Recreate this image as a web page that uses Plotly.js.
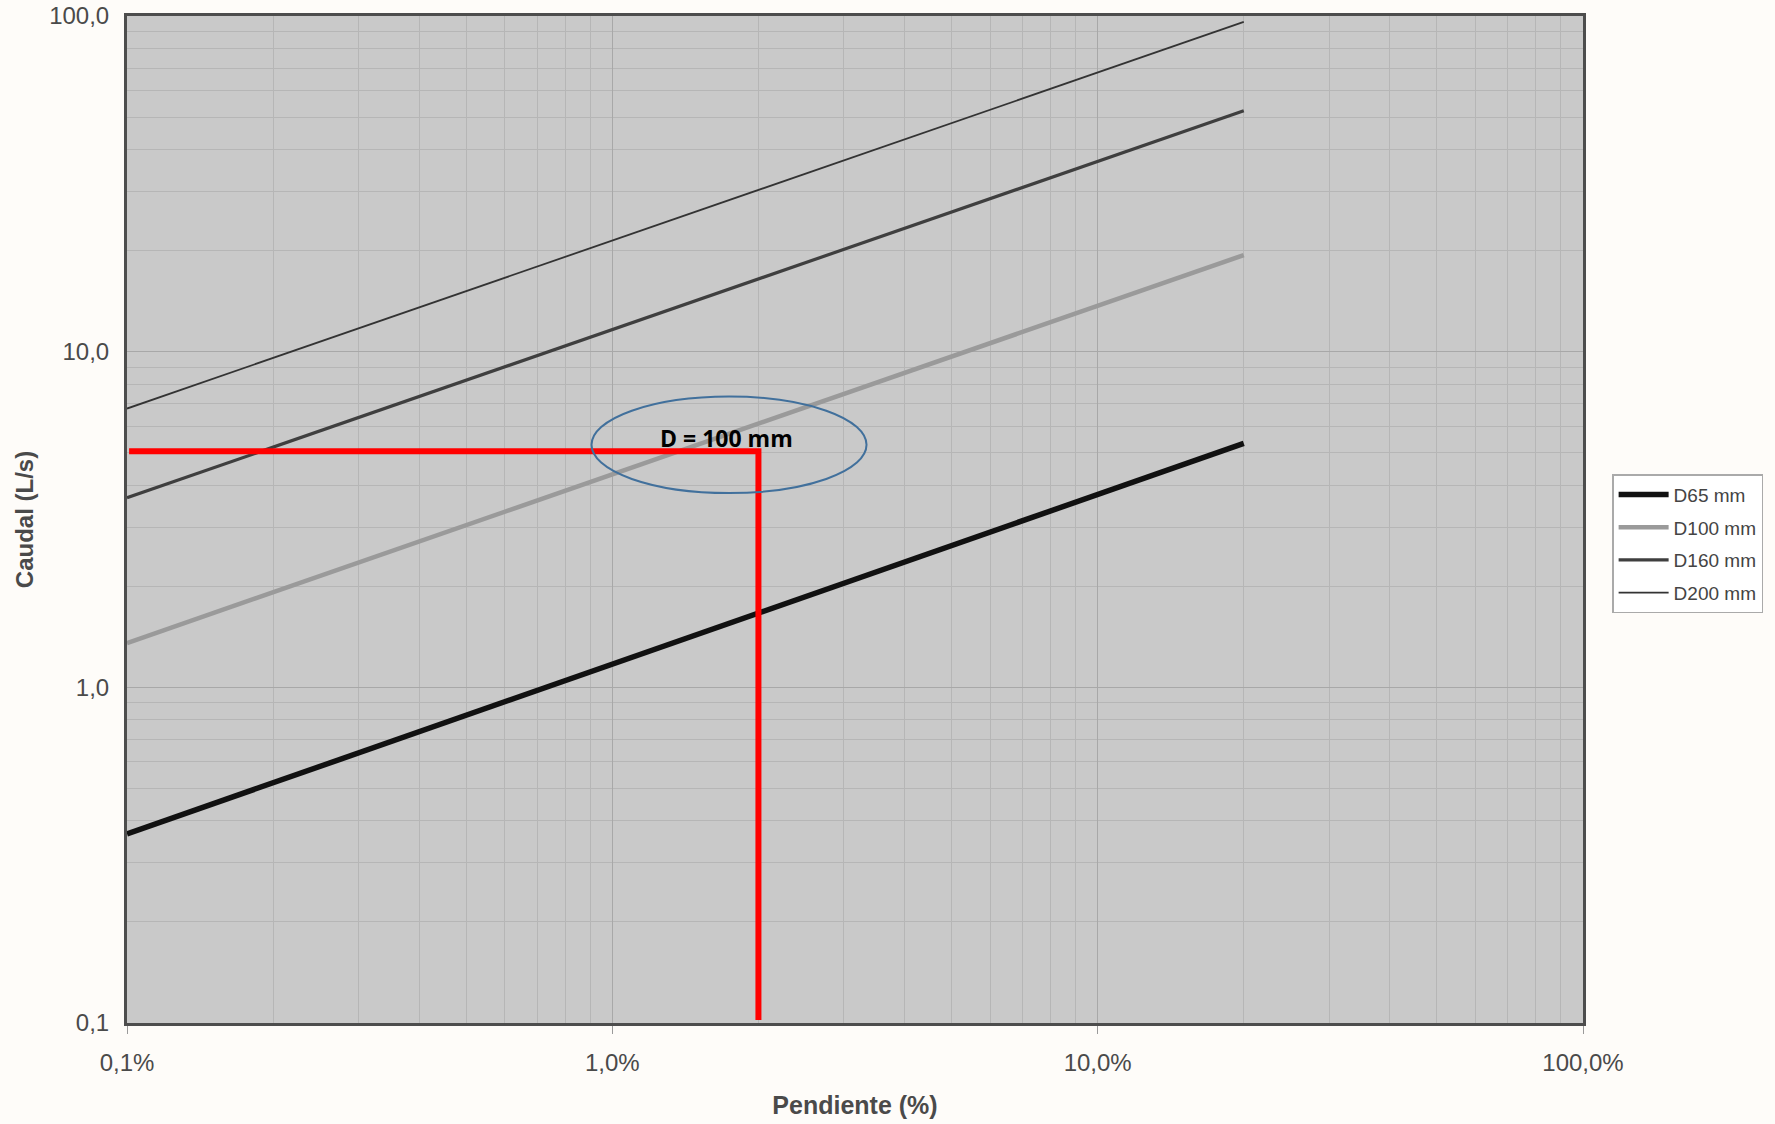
<!DOCTYPE html>
<html>
<head>
<meta charset="utf-8">
<script src="https://cdn.plot.ly/plotly-3.0.1.min.js"></script>
<style>
  html, body { margin: 0; padding: 0; background: #fefcf9; }
  #chart { width: 1775px; height: 1124px; }
</style>
</head>
<body>
<div id="chart"></div>
<script>
// Pendiente (%) at the two ends of each curve
const slopes = [0.1, 20];
// Caudal (L/s) read at those ends
const d65 = [0.366, 5.33];
const d100 = [1.355, 19.4];
const d160 = [3.67, 52.2];
const d200 = [6.77, 96];
const seriesNames = ['D65 mm', 'D100 mm', 'D160 mm', 'D200 mm'];

// Red reading guide (D = 100 mm at 2 % gives about 5 L/s)
const guideX = [0.101, 2, 2];
const guideY = [5.05, 5.05, 0.102];

// Ellipse corners (data values) around the reading point
const ellipseX = [0.906, 3.34];
const ellipseY = [3.79, 7.35];
const noteText = 'D = 100 mm';
const notePos = [1.72, 5.55];

const xTickVals = [0.1, 1, 10, 100];
const xTickText = ['0,1%', '1,0%', '10,0%', '100,0%'];
const yTickVals = [0.1, 1, 10, 100];
const yTickText = ['0,1', '1,0', '10,0', '100,0'];

const styles = [
  {color: '#111111', width: 5.5},
  {color: '#9a9a9a', width: 4.5},
  {color: '#3f3f3f', width: 3.2},
  {color: '#333333', width: 1.8}
];
const values = [d65, d100, d160, d200];

const traces = values.map((v, i) => ({
  x: slopes, y: v, type: 'scatter', mode: 'lines',
  name: seriesNames[i], legendgroup: 'g' + i,
  line: {color: styles[i].color, width: styles[i].width}
}));

traces.push({
  x: guideX, y: guideY, type: 'scatter', mode: 'lines',
  showlegend: false, hoverinfo: 'skip',
  line: {color: '#ff0000', width: 6}
});

const gridMinor = {showgrid: true, gridcolor: '#b6b6b6', gridwidth: 1, dtick: 'D1', ticks: ''};

const layout = {
  width: 1775, height: 1124,
  margin: {l: 127, r: 192, t: 16, b: 101},
  paper_bgcolor: '#fefcf9',
  plot_bgcolor: '#c9c9c9',
  font: {family: 'Liberation Sans, Arial, sans-serif', color: '#444444'},
  xaxis: {
    type: 'log', range: [-1, 2],
    tickvals: xTickVals, ticktext: xTickText,
    tickfont: {size: 24, color: '#4a4a4a'},
    ticks: 'outside', ticklen: 8, tickcolor: '#9a9a9a', tickwidth: 1,
    ticklabelstandoff: 8, ticklabeloverflow: 'allow',
    showgrid: true, gridcolor: '#a8a8a8', gridwidth: 1,
    minor: gridMinor,
    showline: true, mirror: true, linecolor: '#4d4d4d', linewidth: 3,
    zeroline: false,
    title: {text: '<b>Pendiente (%)</b>', font: {size: 25, color: '#4a4a4a'}, standoff: 22}
  },
  yaxis: {
    type: 'log', range: [-1, 2],
    tickvals: yTickVals, ticktext: yTickText,
    tickfont: {size: 24, color: '#4a4a4a'},
    ticks: '', ticklabelstandoff: 10, ticklabeloverflow: 'allow',
    showgrid: true, gridcolor: '#a8a8a8', gridwidth: 1,
    minor: gridMinor,
    showline: true, mirror: true, linecolor: '#4d4d4d', linewidth: 3,
    zeroline: false,
    title: {text: '<b>Caudal (L/s)</b>', font: {size: 24, color: '#4a4a4a'}, standoff: 9}
  },
  legend: {
    x: 1.02, xanchor: 'left', y: 0.545, yanchor: 'top',
    bgcolor: '#ffffff', bordercolor: '#aaaaaa', borderwidth: 1.5,
    font: {size: 19, color: '#444444'},
    itemwidth: 50,
    traceorder: 'grouped', tracegroupgap: 5
  },
  shapes: [{
    type: 'circle', xref: 'x', yref: 'y',
    x0: ellipseX[0], x1: ellipseX[1], y0: ellipseY[0], y1: ellipseY[1],
    line: {color: '#41709c', width: 2}
  }],
  annotations: [{
    xref: 'x', yref: 'y',
    x: Math.log10(notePos[0]), y: Math.log10(notePos[1]),
    text: '<b>' + noteText + '</b>', showarrow: false,
    font: {family: 'Open Sans, Lato, sans-serif', size: 23, color: '#000000'}
  }],
  showlegend: true
};

Plotly.newPlot('chart', traces, layout, {displayModeBar: false, staticPlot: true});
</script>
</body>
</html>
